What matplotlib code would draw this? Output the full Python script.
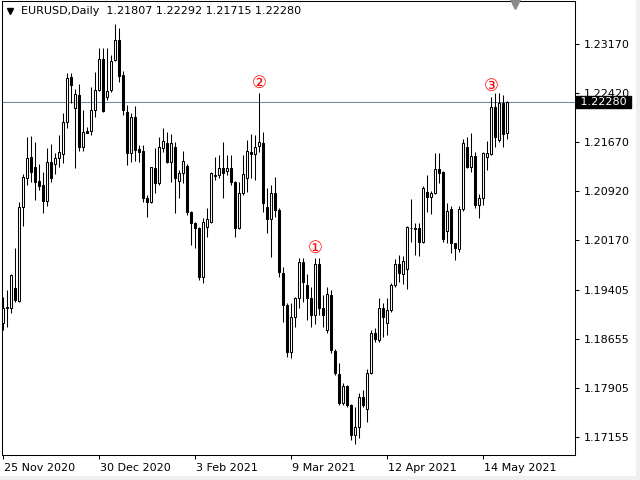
import numpy as np
import matplotlib.pyplot as plt
import matplotlib.transforms as mtransforms
from matplotlib.lines import Line2D
from matplotlib.patches import Rectangle

SYMBOL = "EURUSD,Daily"

OPENS = [
    1.1890, 1.1913, 1.1913, 1.1944, 1.1924, 1.2068, 1.2112, 1.2144, 1.2129, 1.2107,
    1.2101, 1.2077, 1.2136, 1.2133, 1.2142, 1.2149, 1.2198, 1.2266, 1.2219, 1.2239,
    1.2159, 1.2184, 1.2184, 1.2216, 1.2247, 1.2294, 1.2236, 1.2247, 1.2293, 1.2323,
    1.2270, 1.2213, 1.2150, 1.2205, 1.2156, 1.2153, 1.2081, 1.2075, 1.2127, 1.2104,
    1.2158, 1.2165, 1.2136, 1.2159, 1.2107, 1.2119, 1.2130, 1.2060, 1.2043, 1.2035,
    1.1960, 1.2037, 1.2045, 1.2115, 1.2116, 1.2127, 1.2122, 1.2127, 1.2106, 1.2035,
    1.2089, 1.2112, 1.2152, 1.2149, 1.2161, 1.2165, 1.2068, 1.2049, 1.2089, 1.2063,
    1.1967, 1.1917, 1.1846, 1.1899, 1.1928, 1.1983, 1.1948, 1.1928, 1.1902, 1.1980,
    1.1913, 1.1879, 1.1933, 1.1847, 1.1812, 1.1768, 1.1793, 1.1765, 1.1719, 1.1731,
    1.1777, 1.1758, 1.1813, 1.1875, 1.1864, 1.1913, 1.1890, 1.1910, 1.1948, 1.1980,
    1.1965, 1.1973, 1.2035, 1.2035, 1.2035, 1.2014, 1.2090, 1.2083, 1.2089, 1.2126,
    1.2121, 1.2031, 1.2064, 1.2012, 1.2003, 1.2064, 1.2159, 1.2129, 1.2146, 1.2071,
    1.2081, 1.2144, 1.2149, 1.2221, 1.2170, 1.2227, 1.21807,
]
HIGHS = [
    1.1930, 1.1940, 1.1965, 1.2005, 1.2075, 1.2118, 1.2175, 1.2176, 1.2167, 1.2133,
    1.2121, 1.2158, 1.2164, 1.2150, 1.2178, 1.2211, 1.2273, 1.2273, 1.2248, 1.2256,
    1.2216, 1.2190, 1.2251, 1.2274, 1.2311, 1.2311, 1.2311, 1.2300, 1.2348, 1.2341,
    1.2276, 1.2224, 1.2211, 1.2222, 1.2162, 1.2162, 1.2086, 1.2129, 1.2158, 1.2175,
    1.2188, 1.2182, 1.2179, 1.2167, 1.2124, 1.2153, 1.2133, 1.2061, 1.2045, 1.2037,
    1.2051, 1.2066, 1.2121, 1.2144, 1.2147, 1.2167, 1.2147, 1.2147, 1.2107, 1.2106,
    1.2147, 1.2170, 1.2179, 1.2178, 1.2242, 1.2182, 1.2096, 1.2101, 1.2113, 1.2066,
    1.1976, 1.1921, 1.1921, 1.1930, 1.1989, 1.1989, 1.1965, 1.1945, 1.1989, 1.1990,
    1.1933, 1.1945, 1.1940, 1.1850, 1.1829, 1.1798, 1.1795, 1.1766, 1.1762, 1.1783,
    1.1787, 1.1820, 1.1879, 1.1882, 1.1928, 1.1921, 1.1928, 1.1951, 1.1988, 1.1994,
    1.1992, 1.2039, 1.2080, 1.2043, 1.2043, 1.2100, 1.2116, 1.2092, 1.2150, 1.2150,
    1.2122, 1.2074, 1.2069, 1.2013, 1.2069, 1.2172, 1.2175, 1.2181, 1.2152, 1.2087,
    1.2151, 1.2168, 1.2236, 1.2242, 1.2242, 1.2239, 1.22292,
]
LOWS = [
    1.1879, 1.1884, 1.1905, 1.1922, 1.1922, 1.2038, 1.2101, 1.2106, 1.2078, 1.2094,
    1.2058, 1.2069, 1.2106, 1.2118, 1.2129, 1.2135, 1.2188, 1.2227, 1.2127, 1.2153,
    1.2153, 1.2180, 1.2178, 1.2205, 1.2245, 1.2213, 1.2231, 1.2244, 1.2291, 1.2259,
    1.2208, 1.2132, 1.2136, 1.2138, 1.2136, 1.2075, 1.2052, 1.2073, 1.2089, 1.2101,
    1.2152, 1.2135, 1.2106, 1.2058, 1.2081, 1.2104, 1.2055, 1.2009, 1.2005, 1.1956,
    1.1951, 1.2022, 1.2043, 1.2109, 1.2112, 1.2081, 1.2116, 1.2101, 1.2022, 1.2034,
    1.2086, 1.2091, 1.2112, 1.2109, 1.2152, 1.2060, 1.2028, 1.1991, 1.2052, 1.1960,
    1.1892, 1.1838, 1.1836, 1.1884, 1.1913, 1.1922, 1.1895, 1.1884, 1.1888, 1.1902,
    1.1884, 1.1875, 1.1844, 1.1810, 1.1765, 1.1765, 1.1762, 1.1711, 1.1705, 1.1714,
    1.1762, 1.1738, 1.1812, 1.1861, 1.1861, 1.1869, 1.1872, 1.1907, 1.1945, 1.1953,
    1.1950, 1.1942, 1.2014, 1.1994, 1.1993, 1.2012, 1.2060, 1.2057, 1.2087, 1.2104,
    1.2014, 1.2012, 1.1997, 1.1986, 1.1999, 1.2061, 1.2127, 1.2121, 1.2066, 1.2051,
    1.2071, 1.2124, 1.2147, 1.2159, 1.2167, 1.2159, 1.21715,
]
CLOSES = [
    1.1913, 1.1915, 1.1963, 1.1925, 1.2068, 1.2113, 1.2142, 1.2121, 1.2106, 1.2100,
    1.2077, 1.2136, 1.2112, 1.2142, 1.2152, 1.2198, 1.2265, 1.2254, 1.2240, 1.2159,
    1.2182, 1.2181, 1.2216, 1.2247, 1.2294, 1.2214, 1.2245, 1.2291, 1.2323, 1.2268,
    1.2216, 1.2150, 1.2205, 1.2155, 1.2152, 1.2081, 1.2075, 1.2128, 1.2104, 1.2159,
    1.2168, 1.2136, 1.2165, 1.2112, 1.2119, 1.2138, 1.2060, 1.2043, 1.2035, 1.1960,
    1.2045, 1.2049, 1.2119, 1.2116, 1.2127, 1.2119, 1.2127, 1.2106, 1.2035, 1.2089,
    1.2118, 1.2153, 1.2149, 1.2159, 1.2167, 1.2073, 1.2049, 1.2089, 1.2063, 1.1968,
    1.1917, 1.1846, 1.1899, 1.1928, 1.1983, 1.1953, 1.1928, 1.1902, 1.1980, 1.1913,
    1.1902, 1.1934, 1.1849, 1.1813, 1.1768, 1.1793, 1.1765, 1.1719, 1.1731, 1.1777,
    1.1765, 1.1813, 1.1875, 1.1866, 1.1913, 1.1899, 1.1910, 1.1948, 1.1980, 1.1967,
    1.1985, 1.2037, 1.2036, 1.2034, 1.2014, 1.2097, 1.2083, 1.2089, 1.2126, 1.2119,
    1.2019, 1.2061, 1.2012, 1.2005, 1.2064, 1.2165, 1.2129, 1.2146, 1.2071, 1.2081,
    1.2150, 1.2150, 1.2221, 1.2175, 1.2227, 1.2179, 1.22280,
]

DATE_LABELS = ["25 Nov 2020", "30 Dec 2020", "3 Feb 2021", "9 Mar 2021", "12 Apr 2021", "14 May 2021"]
DATE_BARS = [0, 24, 48, 72, 96, 120]

PRICE_TICKS = [1.23170, 1.22420, 1.21670, 1.20920, 1.20170, 1.19405, 1.18655, 1.17905, 1.17155]

# (bar index, label) for the red circled marks
MARKS = [(78, "\u2460"), (64, "\u2461"), (122, "\u2462")]

plt.rcParams.update({"font.family": "DejaVu Sans", "font.size": 8})

opens = np.array(OPENS)
highs = np.array(HIGHS)
lows = np.array(LOWS)
closes = np.array(CLOSES)
idx = np.arange(len(opens))
up = closes >= opens

fig = plt.figure(figsize=(6.4, 4.8), dpi=100)
fig.patch.set_facecolor("white")
fig.add_artist(Rectangle((0, 0), 1, 4 / 480, transform=fig.transFigure,
                         facecolor="#f0f0f0", edgecolor="none", zorder=-5))
fig.add_artist(Rectangle((636 / 640, 0), 4 / 640, 1, transform=fig.transFigure,
                         facecolor="#f0f0f0", edgecolor="none", zorder=-5))

ax = fig.add_axes([2 / 640, 25 / 480, 573 / 640, 453.5 / 480])
ax.set_xlim(-0.25, 143.0)
ax.set_ylim(1.16879, 1.2382)

# wicks, then bodies on top
ax.vlines(idx, lows, highs, color="black", linewidth=0.75, zorder=2)
body_low = np.minimum(opens, closes)
body_h = np.maximum(np.abs(closes - opens), 0.00002)
ax.bar(idx, body_h, bottom=body_low, width=0.5,
       color=np.where(up, "white", "black"), edgecolor="black",
       linewidth=0.75, zorder=3)

ax.axhline(closes[-1], color="#778899", linewidth=0.75, zorder=1)

for bar, sym in MARKS:
    ax.annotate(sym, xy=(bar, highs[bar]), xytext=(0, 7.5), textcoords="offset points",
                ha="center", va="center", color="red", fontsize=12, zorder=5)

# axes styling
for sp in ax.spines.values():
    sp.set_linewidth(0.75)
    sp.set_color("black")

ax.yaxis.tick_right()
ax.set_yticks(PRICE_TICKS)
ax.set_yticklabels([f"{p:.5f}" for p in PRICE_TICKS])
ax.tick_params(axis="y", direction="out", length=3, width=0.75, pad=3, colors="black")

ax.set_xticks(DATE_BARS)
ax.set_xticklabels(DATE_LABELS)
ax.tick_params(axis="x", direction="out", length=3, width=0.75, pad=3, colors="black")
for lbl in ax.get_xticklabels():
    lbl.set_ha("left")
    lbl.set_transform(lbl.get_transform() + mtransforms.ScaledTranslation(1 / 100, 0, fig.dpi_scale_trans))

# current price box on the price scale
price_tf = mtransforms.blended_transform_factory(ax.transAxes, ax.transData)
ax.annotate(f" {closes[-1]:.5f} ", xy=(1.0, closes[-1]), xycoords=price_tf,
            xytext=(1.5, 0), textcoords="offset points", ha="left", va="center",
            color="white", fontsize=8, annotation_clip=False, zorder=10,
            bbox=dict(boxstyle="square,pad=0.1", facecolor="black", edgecolor="black"))

# header text
fig.add_artist(Line2D([10 / 640], [1 - 11 / 480], marker="v", markersize=5,
                      color="black", transform=fig.transFigure))
fig.text(21 / 640, 1 - 11.5 / 480,
         f"{SYMBOL}  {opens[-1]:.5f} {highs[-1]:.5f} {lows[-1]:.5f} {closes[-1]:.5f}",
         ha="left", va="center", fontsize=8, color="black")

# chart-shift marker at top right
fig.add_artist(Line2D([515 / 640], [1 - 3.5 / 480], marker="v", markersize=7,
                      color="#8a8a8a", transform=fig.transFigure))

fig.savefig("out.png", dpi=100)
